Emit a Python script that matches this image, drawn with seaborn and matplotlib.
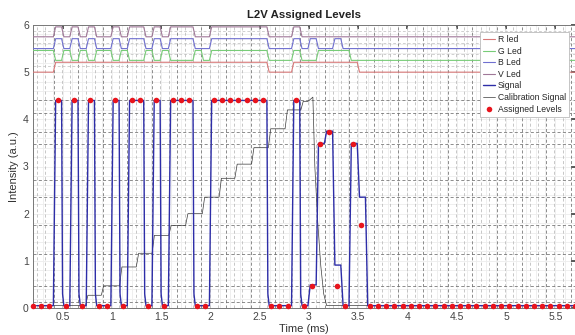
import numpy as np
import pandas as pd
import seaborn as sns
import matplotlib
matplotlib.use("Agg")
import matplotlib.pyplot as plt

# ---- sampling grid -------------------------------------------------------
t_first = 0.2          # ms, first sample
period = 1 / 12        # ms between samples
n_samples = 67

LOW, HIGH = 0.04, 4.4

# level assigned to each sample
assigned = ([LOW] * 3 + [HIGH, LOW, HIGH, LOW, HIGH, LOW, LOW, HIGH, LOW,
            HIGH, HIGH, LOW, HIGH, LOW, HIGH, HIGH, HIGH, LOW, LOW]
            + [HIGH] * 7 + [LOW] * 3 + [HIGH, LOW, 0.465, 3.47, 3.74, 0.465,
            LOW, 3.47, 1.77] + [LOW] * 26)

# plateau reached by the photodiode signal in each sample slot
signal_plateau = ([0.05] * 3 + [HIGH, 0.05, HIGH, 0.05, HIGH, 0.05, 0.05, HIGH, 0.05,
                  HIGH, HIGH, 0.05, HIGH, 0.05, HIGH, HIGH, HIGH, 0.05, 0.05]
                  + [HIGH] * 7 + [0.05] * 3 + [HIGH, 0.05, 0.49, 3.49, 3.75, 0.91,
                  0.05, 3.49, 2.35] + [0.05] * 26)
foot_level = 0.3       # short shelf after a saturated pulse switches off

# LED drive states per slot (1 = on)
v_led = ([0] * 3 + [1, 0, 1, 0, 1, 0, 0, 1, 0, 1, 1, 0, 1, 0, 1, 1, 1, 0, 0]
         + [1] * 7 + [0] * 3 + [1] + [0] * 34)
b_led = ([0] * 3 + [1, 0, 1, 0, 1, 0, 0, 1, 0, 1, 1, 0, 1, 0, 1, 1, 1, 0, 0]
         + [1] * 7 + [0] * 3 + [1, 0, 1, 0, 0, 1] + [0] * 29)
g_led = ([1] * 3 + [0, 1, 0, 1, 0, 1, 1, 0, 1, 0, 0, 1, 0, 1, 0, 0, 0, 1, 0]
         + [1] * 7 + [0] * 3 + [1, 0, 0, 1, 1, 1, 1] + [0] * 28)
r_led = ([0] * 3 + [1] * 26 + [0] * 3 + [1] * 8 + [0] * 27)

led_names = ["R led", "G Led", "B Led", "V Led"]
led_base = {"R led": 5.0, "G Led": 5.25, "B Led": 5.5, "V Led": 5.75}
led_swing = 0.21
led_color = {"R led": "#d87878", "G Led": "#78cc78", "B Led": "#7070d0", "V Led": "#a07898"}

# calibration staircase: (switch time in ms, new level)
cal_times = [0.745, 0.905, 1.09, 1.26, 1.42, 1.59, 1.76, 1.93, 2.10, 2.26, 2.43, 2.60, 2.77, 2.93]
cal_levels = [0.27, 0.47, 0.87, 1.16, 1.54, 1.75, 2.0, 2.35, 2.75, 3.05, 3.4, 3.8, 4.2, 4.38]
cal_decay_t = [3.04, 3.06, 3.09, 3.12, 3.15, 3.18]
cal_decay_v = [4.47, 3.0, 1.8, 0.9, 0.3, 0.05]

# reference levels and time boundaries marked on the grid
level_lines = [0.13, 0.465, 1.14, 1.75, 2.35, 2.72, 3.47, 3.74, 4.14, 4.4]
x_ticks = [0.5, 1, 1.5, 2, 2.5, 3, 3.5, 4, 4.5, 5, 5.5]
x_ticklabels = ["0.5", "1", "1.5", "2", "2.5", "3", "3.5", "4", "4.5", "5", "5.5"]
y_ticks = [0, 1, 2, 3, 4, 5, 6]

# ---- build piecewise paths ----------------------------------------------
t_k = t_first + period * np.arange(n_samples)
lead, hold = 0.02, 0.04


def slot_path(levels, foot=None):
    xs, ys = [], []
    for i, (t, lv) in enumerate(zip(t_k, levels)):
        xs += [t - lead, t + hold]
        ys += [lv, lv]
        if foot is not None and i + 1 < len(levels) and lv >= HIGH and levels[i + 1] < 1:
            xs.append(t + hold + 0.01)
            ys.append(foot)
    return np.array(xs), np.array(ys)


sig_x, sig_y = slot_path(signal_plateau, foot_level)
keep = (sig_x >= t_first) & (sig_x <= t_k[-1])
sig_x, sig_y = sig_x[keep], sig_y[keep]

cal_x, cal_y = [t_first], [0.05]
prev = 0.05
for t, lv in zip(cal_times, cal_levels):
    cal_x += [t - 0.012, t + 0.012]
    cal_y += [prev, lv]
    prev = lv
cal_x += [cal_decay_t[0] - 0.05] + cal_decay_t + [t_k[-1]]
cal_y += [prev] + cal_decay_v + [0.05]

# ---- figure ---------------------------------------------------------------
sns.set_theme(style="white")
plt.rcParams["font.family"] = ["Liberation Sans", "DejaVu Sans"]

fig = plt.figure(figsize=(5.75, 3.35), dpi=100)
ax = fig.add_axes([33 / 575, 27 / 335, 542 / 575, 283 / 335])
ax.set_xlim(t_first, t_k[-1])
ax.set_ylim(0, 6)

# grid: light minor lines, dashed sample boundaries and level markers
for y in np.arange(0.2, 6.0, 0.2):
    ax.axhline(y, color="#ededed", lw=0.6, zorder=0)
for x in np.arange(0.3, 5.7, 0.1):
    ax.axvline(x, color="#ededed", lw=0.6, zorder=0)
for i in range(n_samples - 1):
    xb = t_k[i] + period / 2
    dark = i % 3 == 2
    ax.axvline(xb, color="#6e6e6e" if dark else "#b8b8b8", lw=0.55,
               ls=(0, (4, 3)), zorder=1)
for y in level_lines:
    ax.axhline(y, color="#6e6e6e", lw=0.55, ls=(0, (4, 3)), zorder=1)
for y in [5.125, 5.375, 5.625, 5.875]:
    ax.axhline(y, color="#bdbdbd", lw=0.5, ls=(0, (4, 3)), zorder=1)

handles = []

# LED drive traces
leds = {"R led": r_led, "G Led": g_led, "B Led": b_led, "V Led": v_led}
for name in led_names:
    lx, ly = slot_path([led_base[name] + led_swing * s for s in leds[name]])
    lx = np.clip(lx, t_first, t_k[-1])
    sns.lineplot(x=lx, y=ly, ax=ax, color=led_color[name], lw=0.8,
                 estimator=None, sort=False, zorder=3)
    ax.lines[-1].set_label(name)
    handles.append(ax.lines[-1])

sns.lineplot(x=sig_x, y=sig_y, ax=ax, color="#2e2ea8", lw=1.0,
             estimator=None, sort=False, zorder=4)
ax.lines[-1].set_label("Signal")
handles.append(ax.lines[-1])

sns.lineplot(x=cal_x, y=cal_y, ax=ax, color="#3a3a3a", lw=0.5,
             estimator=None, sort=False, zorder=3)
ax.lines[-1].set_label("Calibration Signal")
handles.append(ax.lines[-1])

sns.scatterplot(x=t_k, y=assigned, ax=ax, color="#e8141c", s=16, linewidth=0,
                zorder=5, clip_on=False)
ax.collections[-1].set_label("Assigned Levels")
handles.append(ax.collections[-1])

ax.set_xticks(x_ticks)
ax.set_xticklabels(x_ticklabels)
ax.set_yticks(y_ticks)
ax.tick_params(direction="in", length=3, labelsize=7.5, colors="#444444",
               top=True, right=True, pad=3)
for s in ax.spines.values():
    s.set_color("#777777")
    s.set_linewidth(0.7)

ax.set_title("L2V Assigned Levels", fontsize=8.2, fontweight="bold", color="#222222", pad=5)
ax.set_xlabel("Time (ms)", fontsize=8, color="#333333", labelpad=1)
ax.set_ylabel("Intensity (a.u.)", fontsize=8, color="#333333", labelpad=3)

leg = ax.legend(handles=handles, labels=[h.get_label() for h in handles],
                loc="upper right", bbox_to_anchor=(0.997, 0.99), fontsize=6.2,
                frameon=True, fancybox=False, framealpha=1, edgecolor="#bbbbbb",
                handlelength=1.4, handletextpad=0.3, borderpad=0.35, labelspacing=0.3)
leg.get_frame().set_linewidth(0.6)

fig.savefig("out.png", dpi=100)
